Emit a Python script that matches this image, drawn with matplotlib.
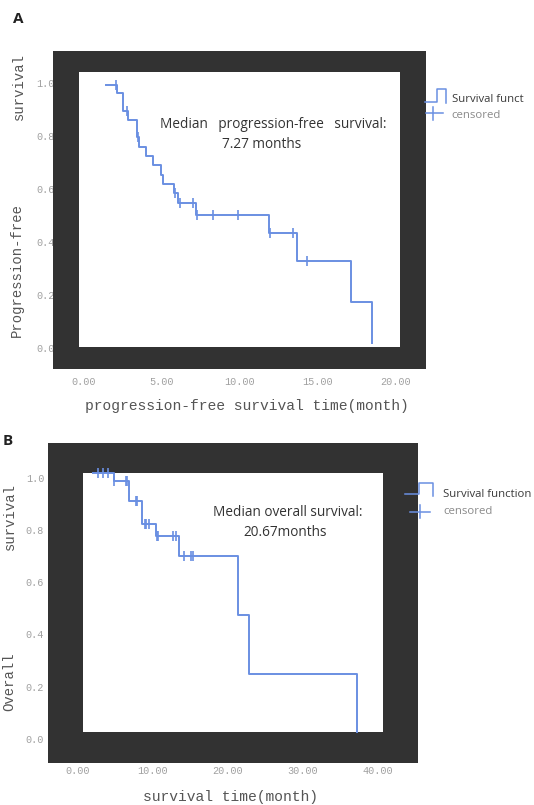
import matplotlib
matplotlib.use('Agg')
import matplotlib.pyplot as plt
from matplotlib.patches import Rectangle
from matplotlib.lines import Line2D

W, H = 534, 805

# panel A: progression-free survival (months, survival proportion)
pfs_start = 1.41
pfs_first = 0.994
pfs_times = [2.12, 2.54, 2.86, 3.44, 3.55, 4.00, 4.47, 4.96, 5.07, 5.82, 6.07, 7.21, 11.91, 13.71, 17.14, 18.50]
pfs_surv = [0.962, 0.894, 0.860, 0.797, 0.760, 0.726, 0.690, 0.654, 0.619, 0.585, 0.546, 0.501, 0.433, 0.328, 0.172, 0.018]
pfs_cens_t = [2.05, 2.76, 3.50, 5.85, 6.18, 7.03, 7.25, 8.32, 9.92, 11.95, 13.45, 14.31]
pfs_cens_s = [0.994, 0.894, 0.797, 0.585, 0.546, 0.546, 0.501, 0.501, 0.501, 0.433, 0.433, 0.328]
pfs_xticks = [0, 5, 10, 15, 20]

# panel B: overall survival
os_start = 2.01
os_first = 1.018
os_times = [4.85, 6.90, 8.62, 10.44, 13.55, 21.33, 22.84, 37.19]
os_surv = [0.986, 0.910, 0.824, 0.776, 0.700, 0.475, 0.248, 0.028]
os_cens_t = [2.76, 3.34, 4.09, 4.90, 6.45, 6.60, 7.72, 7.87, 8.95, 9.18, 9.45,
             10.62, 10.75, 12.70, 13.05, 14.22, 15.13, 15.39]
os_cens_s = [1.018] * 3 + [0.986] * 3 + [0.910] * 2 + [0.824] * 3 + [0.776] * 4 + [0.700] * 3
os_xticks = [0, 10, 20, 30, 40]

yticks = [0.0, 0.2, 0.4, 0.6, 0.8, 1.0]

BLUE = '#6a8fe2'
DARK = '#323232'
MONO = 'Liberation Mono'
SANS = 'Open Sans'


def fx(px):
    return px / W


def fy(py):
    return 1 - py / H


def pxRect(ax, x0, y0, x1, y1, color, z):
    r = Rectangle((fx(x0), fy(y1)), (x1 - x0) / W, (y1 - y0) / H,
                  transform=ax.figure.transFigure, facecolor=color,
                  edgecolor='none', zorder=z, clip_on=False)
    ax.add_artist(r)


def drawPanel(fig, box, inner, axbox, xlim, ylim, start, first, times, surv,
              cens_t, cens_s, xticks, xpad, ypad):
    left, top, right, bottom = axbox
    ax = fig.add_axes([fx(left), fy(bottom), (right - left) / W, (bottom - top) / H])
    ax.set_xlim(xlim)
    ax.set_ylim(ylim)
    ax.patch.set_visible(False)
    for s in ax.spines.values():
        s.set_visible(False)

    pxRect(ax, *box, DARK, 1.7)
    pxRect(ax, *inner, 'white', 1.8)

    ax.step([start] + times, [first] + surv, where='post', color=BLUE, lw=1.4, zorder=3)
    ax.plot(cens_t, cens_s, ls='none', marker='|', ms=7.5, mew=1.2, color=BLUE, zorder=4)

    ax.set_xticks(xticks)
    ax.set_xticklabels([f'{v:.2f}' for v in xticks])
    ax.set_yticks(yticks)
    ax.set_yticklabels([f'{v:.1f}' for v in yticks])
    ax.tick_params(axis='both', length=0, labelsize=7.3, labelcolor='#a0a0a0')
    ax.tick_params(axis='x', pad=xpad)
    ax.tick_params(axis='y', pad=ypad)
    for lab in ax.get_xticklabels() + ax.get_yticklabels():
        lab.set_family(MONO)
    return ax


def drawLegend(fig, step, plus_h, plus_v, tx, ty1, ty2, label):
    fig.add_artist(Line2D([fx(p[0]) for p in step], [fy(p[1]) for p in step],
                          transform=fig.transFigure, color=BLUE, lw=1.1))
    fig.add_artist(Line2D([fx(plus_h[0]), fx(plus_h[1])], [fy(plus_h[2])] * 2,
                          transform=fig.transFigure, color=BLUE, lw=1.1))
    fig.add_artist(Line2D([fx(plus_v[0])] * 2, [fy(plus_v[1]), fy(plus_v[2])],
                          transform=fig.transFigure, color=BLUE, lw=1.1))
    fig.text(fx(tx), fy(ty1), label, family=SANS, fontsize=8.2, color='#3a3a3a', va='center')
    fig.text(fx(tx), fy(ty2), 'censored', family=SANS, fontsize=8.2, color='#8a8a8a', va='center')


fig = plt.figure(figsize=(W / 100, H / 100), dpi=100)

# ---- panel A
drawPanel(fig, (53.1, 51, 425.8, 369), (78.6, 72, 400.2, 347.4),
          (60.3, 69.75, 410.9, 361.25), (-1.5, 21.0), (-0.05, 1.05),
          pfs_start, pfs_first, pfs_times, pfs_surv, pfs_cens_t, pfs_cens_s,
          pfs_xticks, 11.5, 3.8)
drawLegend(fig, [(425, 101.7), (436.7, 101.7), (436.7, 89.3), (446, 89.3), (446, 103.3)],
           (426, 443, 113.3), (433.3, 107, 120), 451.7, 99.5, 115.5, 'Survival funct')
fig.text(fx(273.5), fy(124.3), 'Median   progression-free   survival:', family=SANS,
         fontsize=9.8, color='#333333', ha='center', va='center')
fig.text(fx(262), fy(144), '7.27 months', family=SANS, fontsize=9.8, color='#333333',
         ha='center', va='center')
fig.text(fx(246.7), fy(406), 'progression-free survival time(month)', family=MONO,
         fontsize=10.5, color='#555555', ha='center', va='center')
fig.text(fx(19), fy(86.5), 'survival', family=MONO, fontsize=10, color='#555555',
         rotation=90, ha='center', va='center')
fig.text(fx(17), fy(270), 'Progression-free', family=MONO, fontsize=10, color='#555555',
         rotation=90, ha='center', va='center')
fig.text(fx(18), fy(19), 'A', family=SANS, fontsize=11, fontweight='bold', color='#222222',
         ha='center', va='center')

# ---- panel B
drawPanel(fig, (47.7, 442.7, 417.9, 762.7), (83.4, 473.3, 382.9, 732.3),
          (55.09, 451.57, 392.8, 752.07), (-3, 42), (-0.05, 1.1),
          os_start, os_first, os_times, os_surv, os_cens_t, os_cens_s,
          os_xticks, 10, 7.9)
drawLegend(fig, [(405, 494), (419.3, 494), (419.3, 482.7), (433.3, 482.7), (433.3, 496)],
           (410, 430, 511.7), (420, 505, 518), 443.3, 494, 511, 'Survival function')
fig.text(fx(287.6), fy(512.3), 'Median overall survival:', family=SANS, fontsize=9.8,
         color='#333333', ha='center', va='center')
fig.text(fx(284.7), fy(532.3), '20.67months', family=SANS, fontsize=9.8, color='#333333',
         ha='center', va='center')
fig.text(fx(230.5), fy(797), 'survival time(month)', family=MONO, fontsize=10.5,
         color='#555555', ha='center', va='center')
fig.text(fx(10), fy(516.7), 'survival', family=MONO, fontsize=10, color='#555555',
         rotation=90, ha='center', va='center')
fig.text(fx(9), fy(681.7), 'Overall', family=MONO, fontsize=10, color='#555555',
         rotation=90, ha='center', va='center')
fig.text(fx(8), fy(441), 'B', family=SANS, fontsize=11, fontweight='bold', color='#222222',
         ha='center', va='center')

fig.savefig('out.png', dpi=100)
